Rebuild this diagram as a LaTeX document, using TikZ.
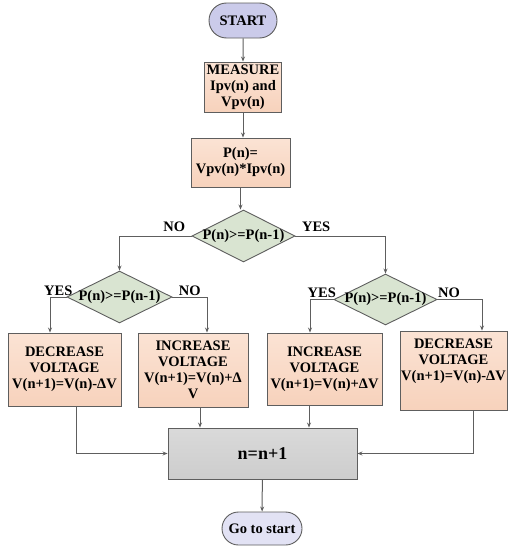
\documentclass[tikz,border=0pt]{standalone}
\usepackage{fontspec}
\setmainfont{Liberation Serif}
\usetikzlibrary{shapes.geometric,shapes.misc,arrows.meta}
\definecolor{linegray}{HTML}{5E5E5E}
\definecolor{peachtop}{HTML}{FBE3D4}
\definecolor{peachbot}{HTML}{F7D2BC}
\definecolor{sage}{HTML}{D9E4D1}
\definecolor{lavender}{HTML}{CBCBEA}
\definecolor{lavlight}{HTML}{E2E2F4}
\definecolor{boxgray}{HTML}{CDCDCD}
\tikzset{
  txt/.style={font=\bfseries\fontsize{14.5}{16}\selectfont},
  proc/.style={txt,draw=linegray,line width=0.9pt,top color=peachtop,bottom color=peachbot,align=center,inner sep=0pt},
  dec/.style={draw=linegray,line width=0.9pt,fill=sage,diamond,inner sep=0pt},
  term/.style={txt,draw=linegray,line width=0.9pt,rounded rectangle,inner sep=0pt},
  arr/.style={draw=linegray,line width=1pt,-{Stealth[length=5pt,width=4pt]}},
  lab/.style={txt,inner sep=0pt}
}
\begin{document}
\begin{tikzpicture}[x=1pt,y=-1pt]
\useasboundingbox (0,0) rectangle (508,546);
%terminals
\node[term,fill=lavender,minimum width=68pt,minimum height=35pt] (start) at (243,20.5) {START};
\node[term,fill=lavlight,minimum width=80pt,minimum height=33pt] (goto) at (262,528.5) {Go to start};
%process boxes
\node[proc,minimum width=77pt,minimum height=50pt] (meas) at (243,87) {MEASURE\\Ipv(n) and\\Vpv(n)};
\node[proc,minimum width=99pt,minimum height=49pt] (pow) at (240.5,162.5) {P(n)=\\Vpv(n)*Ipv(n)};
\node[dec,minimum width=103pt,minimum height=52pt,label={[lab]center:P(n)>=P(n-1)}] (d1) at (243.5,236) {};
\node[dec,minimum width=105pt,minimum height=52pt,label={[lab]center:P(n)>=P(n-1)}] (d2) at (119.5,297) {};
\node[dec,minimum width=103pt,minimum height=51pt,label={[lab]center:P(n)>=P(n-1)}] (d3) at (385.5,299.5) {};
\node[proc,minimum width=113pt,minimum height=73pt] (b1) at (64.5,369.5) {DECREASE\\VOLTAGE\\V(n+1)=V(n)-ΔV};
\node[proc,minimum width=110pt,minimum height=74pt] (b2) at (193,370) {INCREASE\\VOLTAGE\\V(n+1)=V(n)+Δ\\V};
\node[proc,minimum width=115pt,minimum height=72pt] (b3) at (324.5,369) {INCREASE\\VOLTAGE\\V(n+1)=V(n)+ΔV};
\node[proc,minimum width=107pt,minimum height=79pt] (b4) at (453.5,370.5) {DECREASE\\VOLTAGE\\V(n+1)=V(n)-ΔV\\[6pt]};
\node[draw=linegray,line width=0.9pt,top color=boxgray!75,bottom color=boxgray,minimum width=189pt,minimum height=51pt,font=\bfseries\fontsize{18}{20}\selectfont] (inc) at (262.5,453.5) {n=n+1};
%connectors
\draw[arr] (start) -- (meas);
\draw[arr] (meas) -- (meas.south |- pow.north);
\draw[arr] (pow.south) -- (pow.south |- d1.north);
\draw[arr] (d1.west) -| node[lab,pos=.12,above=4pt]{NO} (d2.north);
\draw[arr] (d1.east) -| node[lab,pos=.115,above=4pt]{YES} (d3.north);
\draw[arr] (d2.west) -| node[lab,pos=.25,above=1pt]{YES} ([xshift=-14.5pt]b1.north);
\draw[arr] (d2.east) -| node[lab,pos=.25,above=1pt]{NO} ([xshift=14pt]b2.north);
\draw[arr] (d3.west) -| node[lab,pos=.25,above=1pt]{YES} ([xshift=-14.5pt]b3.north);
\draw[arr] (d3.east) -| node[lab,pos=.13,above=1pt]{NO} ([xshift=28.5pt]b4.north);
\draw[arr] ([xshift=11.5pt]b1.south) |- (inc.west);
\draw[arr] ([xshift=7pt]b2.south) -- ([xshift=7pt]b2.south |- inc.north);
\draw[arr] ([xshift=-15.5pt]b3.south) -- ([xshift=-15.5pt]b3.south |- inc.north);
\draw[arr] ([xshift=19.5pt]b4.south) |- (inc.east);
\draw[arr] (inc) -- (goto);
\end{tikzpicture}
\end{document}
